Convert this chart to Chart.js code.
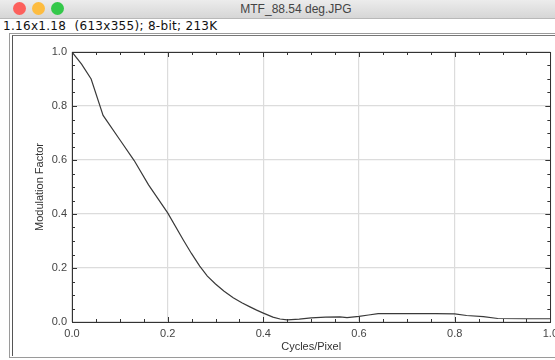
<!DOCTYPE html>
<html>
<head>
<meta charset="utf-8">
<script src="https://cdn.jsdelivr.net/npm/chart.js@4.4.0/dist/chart.umd.min.js"></script>
<style>
  html, body { margin:0; padding:0; width:555px; height:360px; overflow:hidden; background:#fff; font-family:"Liberation Sans", Arial, sans-serif; }
  #titlebar { position:absolute; left:0; top:0; width:555px; height:18px; background:linear-gradient(#ececec,#d6d6d6); border-bottom:1px solid #b8b8b8; }
  .dot { position:absolute; top:2px; width:13px; height:13px; border-radius:50%; }
  #title { position:absolute; left:0; top:2px; width:592px; text-align:center; font-size:12px; color:#444; }
  #info { position:absolute; left:3px; top:19px; font-family:"DejaVu Sans", sans-serif; font-size:12px; letter-spacing:0.3px; color:#111; white-space:nowrap; }
  #frameOuter { position:absolute; left:9px; top:33px; width:570px; height:323px; border:1px solid #9a9a9a; }
  #frameInner { position:absolute; left:12px; top:35px; width:570px; height:320px; border-left:1px solid #555; border-top:1px solid #777; }
  #wrap { position:absolute; left:14px; top:36px; width:549px; height:320px; }
</style>
</head>
<body>
<div id="titlebar">
  <div class="dot" style="left:13px;background:#fc605c"></div>
  <div class="dot" style="left:32px;background:#fdbc40"></div>
  <div class="dot" style="left:51px;background:#34c84a"></div>
  <div id="title">MTF_88.54 deg.JPG</div>
</div>
<div id="info">1.16x1.18&nbsp; (613x355); 8-bit; 213K</div>
<div id="frameOuter"></div>
<div id="frameInner"></div>
<div id="wrap"><canvas id="c" width="549" height="320"></canvas></div>
<script>
// ---- data ----
const freq = [0, 0.02, 0.04, 0.065, 0.1, 0.13, 0.16, 0.2, 0.233, 0.25, 0.267, 0.283, 0.3, 0.318, 0.337, 0.355, 0.372, 0.386, 0.4, 0.42, 0.435, 0.45, 0.475, 0.5, 0.53, 0.56, 0.575, 0.6, 0.62, 0.64, 0.7, 0.76, 0.8, 0.825, 0.86, 0.89, 0.95, 1.0];
const mtf  = [1.0, 0.955, 0.9, 0.765, 0.675, 0.598, 0.508, 0.404, 0.303, 0.253, 0.207, 0.17, 0.141, 0.114, 0.09, 0.071, 0.056, 0.044, 0.033, 0.018, 0.011, 0.008, 0.011, 0.015, 0.018, 0.019, 0.016, 0.021, 0.026, 0.031, 0.031, 0.031, 0.03, 0.024, 0.02, 0.013, 0.012, 0.012];
const axisMin = 0, axisMax = 1;
const majorStep = 0.2, minorStep = 0.05;
const xTitle = 'Cycles/Pixel';
const yTitle = 'Modulation Factor';

const points = freq.map((f, i) => ({x: f, y: mtf[i]}));

const framePlugin = {
  id: 'frameTicks',
  afterDraw(chart) {
    const {ctx, chartArea: a, scales: {x, y}} = chart;
    ctx.save();
    ctx.strokeStyle = '#333';
    ctx.lineWidth = 1;
    ctx.strokeRect(Math.round(a.left) + 0.5, Math.round(a.top) + 0.5, Math.round(a.right - a.left), Math.round(a.bottom - a.top));
    const n = Math.round((axisMax - axisMin) / minorStep);
    ctx.beginPath();
    for (let i = 0; i <= n; i++) {
      const v = axisMin + i * minorStep;
      const major = Math.abs(v / majorStep - Math.round(v / majorStep)) < 1e-6;
      const len = major ? 5 : 3;
      const px = Math.round(x.getPixelForValue(v)) + 0.5;
      ctx.moveTo(px, a.bottom); ctx.lineTo(px, a.bottom - len);
      ctx.moveTo(px, a.top); ctx.lineTo(px, a.top + len);
      const py = Math.round(y.getPixelForValue(v)) + 0.5;
      ctx.moveTo(a.left, py); ctx.lineTo(a.left + len, py);
      ctx.moveTo(a.right, py); ctx.lineTo(a.right - len, py);
    }
    ctx.stroke();
    ctx.restore();
  }
};

const font = {family: '"Liberation Sans", Arial, sans-serif', size: 11};

new Chart(document.getElementById('c'), {
  type: 'line',
  data: {
    datasets: [{
      data: points,
      borderColor: '#3a3a3a',
      borderWidth: 1.2,
      pointRadius: 0,
      tension: 0,
      fill: false
    }]
  },
  options: {
    responsive: false,
    animation: false,
    layout: {padding: {left: 19, top: 16, right: 12, bottom: 2}},
    plugins: {legend: {display: false}, tooltip: {enabled: false}},
    scales: {
      x: {
        type: 'linear', min: axisMin, max: axisMax,
        afterFit(s) { s.height = 32; },
        grid: {color: '#dcdcdc', lineWidth: 1.2, drawTicks: false},
        border: {display: false},
        ticks: {stepSize: majorStep, padding: 5, color: '#444', font, maxRotation: 0,
                callback: v => v.toFixed(1)},
        title: {display: true, text: xTitle, color: '#333', font, padding: 0}
      },
      y: {
        type: 'linear', min: axisMin, max: axisMax,
        afterFit(s) { s.width = 39; },
        grid: {color: '#dcdcdc', lineWidth: 1.2, drawTicks: false},
        border: {display: false},
        ticks: {stepSize: majorStep, padding: 5, color: '#444', font,
                callback: v => v.toFixed(1)},
        title: {display: true, text: yTitle, color: '#333', font, padding: 0}
      }
    }
  },
  plugins: [framePlugin]
});
</script>
</body>
</html>
